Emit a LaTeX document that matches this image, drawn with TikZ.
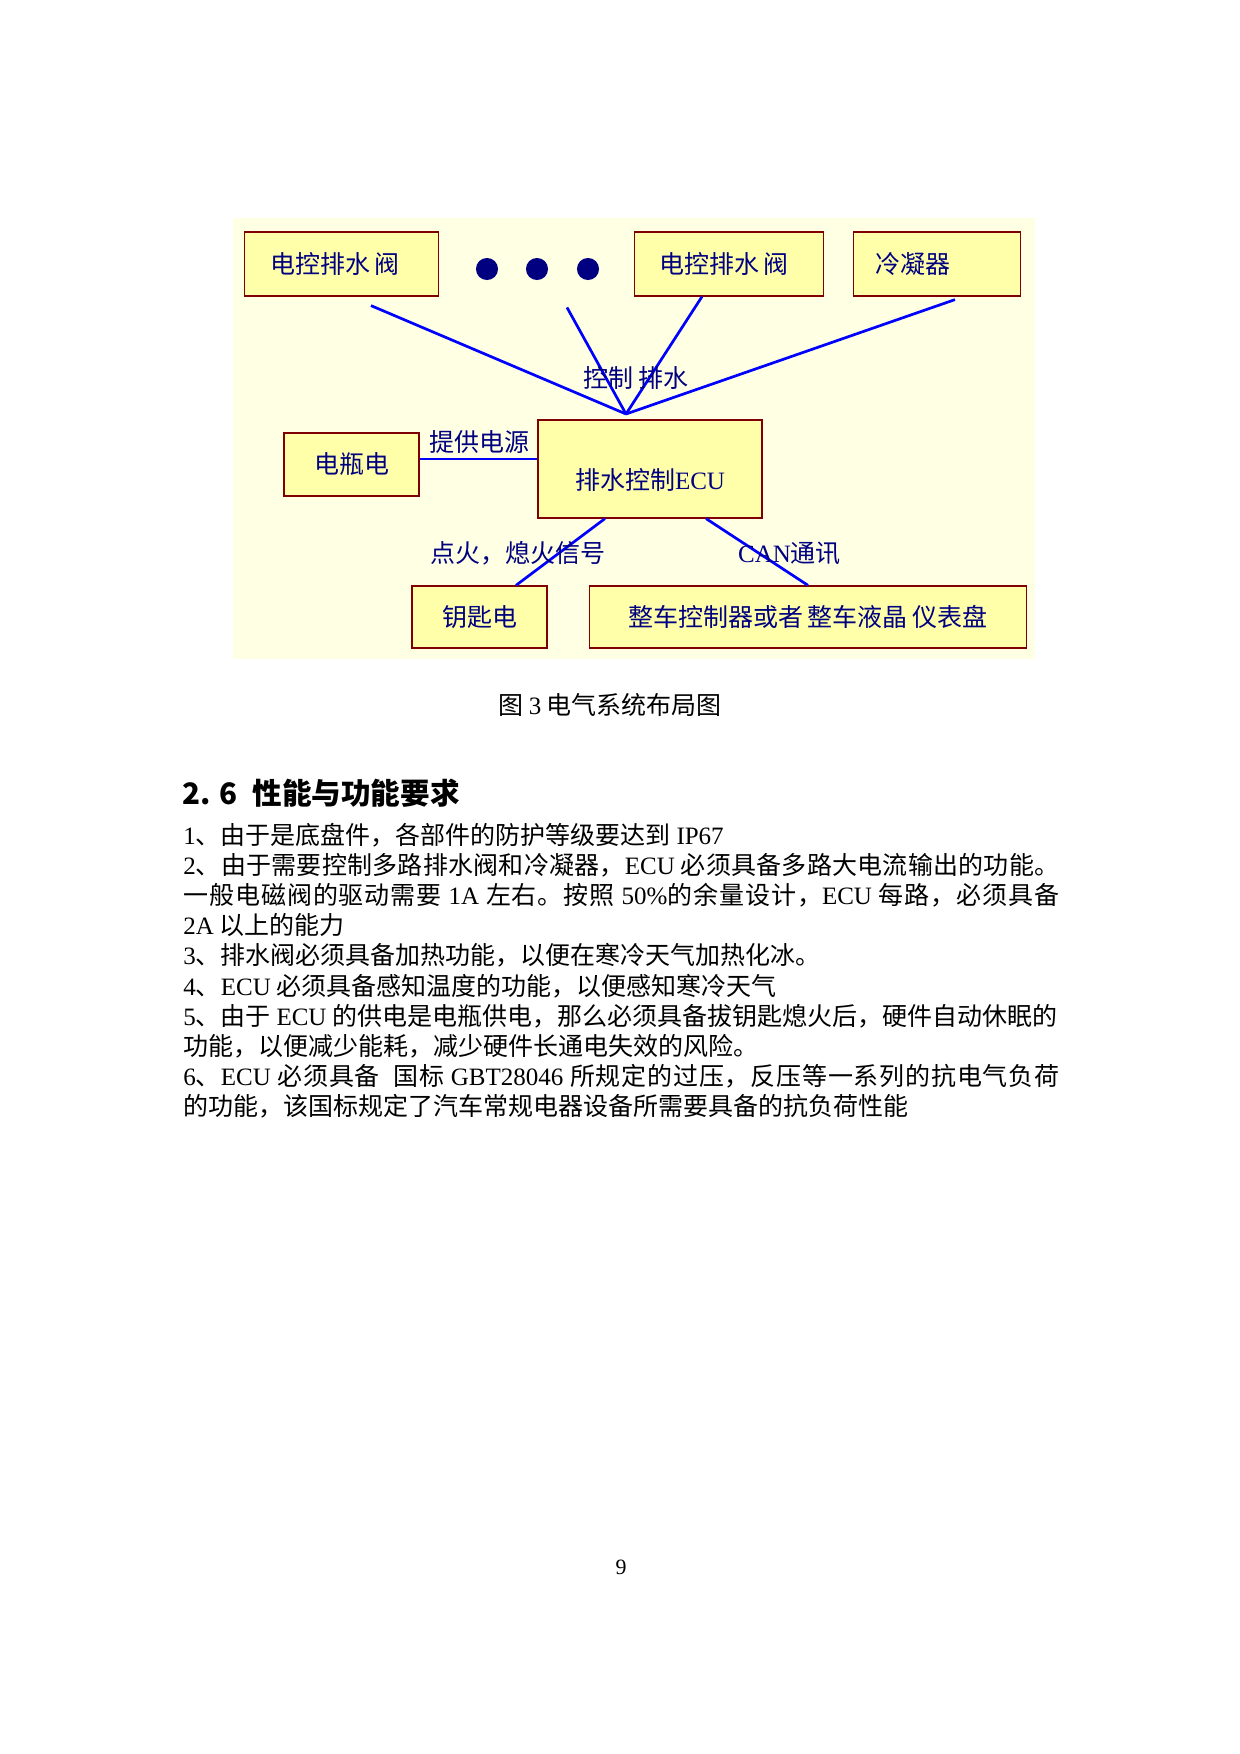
\documentclass[tikz,border=0pt]{standalone}
\usepackage{fontspec}
\setmainfont{Liberation Serif}
\newfontfamily\zh{Noto Sans CJK SC}
\usepackage{tikz}
\usetikzlibrary{positioning}
\definecolor{paper}{RGB}{255,255,228}
\definecolor{boxfill}{RGB}{255,255,170}
\definecolor{boxline}{RGB}{128,0,0}
\definecolor{navytext}{RGB}{0,0,128}
\definecolor{wireblue}{RGB}{0,0,255}
% stretch between Chinese characters for justified lines
\newXeTeXintercharclass\hanclass
\newcount\hanchar
\hanchar="4E00
\loop
	\XeTeXcharclass\hanchar=\hanclass
	\advance\hanchar by 1
\ifnum\hanchar<"A000 \repeat
\XeTeXcharclass"3001=\hanclass
\XeTeXcharclass"3002=\hanclass
\XeTeXcharclass"FF0C=\hanclass
\XeTeXinterchartoks\hanclass\hanclass={\hskip 0pt plus 1pt\relax}
\XeTeXinterchartoks 0 \hanclass={\hskip 0pt plus 1pt\relax}
\XeTeXinterchartoks\hanclass 0 ={\hskip 0pt plus 1pt\relax}
\tikzset{
    box/.style={
        draw=boxline, line width=0.6pt, fill=boxfill, text=navytext,
        font=\zh\fontsize{12}{14}\selectfont, inner ysep=0pt
    },
    topbox/.style={
        box, align=left, minimum height=30.7pt
    },
    dot/.style={circle, fill=navytext, inner sep=0pt, minimum size=10.6pt},
    wire/.style={draw=wireblue, line width=1.3pt},
    lbl/.style={text=navytext, font=\zh\fontsize{12}{14}\selectfont, inner sep=0pt},
    bodytext/.style={
        anchor=west, inner sep=0pt, font=\zh\fontsize{12}{14}\selectfont,
        text height=9pt, text depth=1.5pt
    }
}
\newcommand{\en}[1]{{\rmfamily #1}}
\newcommand{\bodyline}[3]{
	\node[bodytext] (#1) at (183,#2) {#3};
}
\newcommand{\fullline}[3]{
	\node[bodytext] (#1) at (183,#2) {\XeTeXinterchartokenstate=1 \makebox[420.5pt][s]{#3}};
}

\begin{document}
\begin{tikzpicture}[x=0.48pt, y=-0.48pt]
		\fill[white] (0,0) rectangle (1240,1754);
		\useasboundingbox (0,0) rectangle (1240,1754);

		% Diagram background
		\fill[paper] (233,218) rectangle (1035,659);

		% Top row
		\node[topbox, text width=68pt, inner xsep=12.5pt] (valveA) at (341.5,264) {电控排水\,阀};
		\foreach \i/\x in {1/487,2/537,3/588}
			\node[dot] (dot\i) at (\x,269) {};
		\node[topbox, text width=67pt, inner xsep=12pt] (valveB) at (729,264) {电控排水\,阀};
		\node[topbox, text width=59pt, inner xsep=10.5pt] (cond) at (937,264) {冷凝器};

		% Middle row
		\node[box, minimum width=64.8pt, minimum height=30.2pt] (bat) at (351.5,464.5) {电瓶电};
		\node[box, minimum width=107.5pt, minimum height=47pt, text height=21.7pt, text depth=2pt] (ecu) at (650,469) {排水控制\en{ECU}};

		% Bottom row
		\node[box, minimum width=64.8pt, minimum height=29.8pt] (key) at (479.5,617) {钥匙电};
		\node[box, minimum width=209.5pt, minimum height=29.8pt] (car) at (808,617) {整车控制器或者\,整车液晶\,仪表盘};

		% Control lines
		\coordinate (hub) at (626,414);
		\coordinate (valveA foot) at ([shift={(29.5,9)}]valveA.south);
		\coordinate (dots foot) at ([shift={(30,27)}]dot2.south);
		\coordinate (valveB foot) at ([shift={(-27,0)}]valveB.south);
		\coordinate (cond foot) at ([shift={(18,3)}]cond.south);
		\draw[wire] (valveA foot) -- (hub);
		\draw[wire] (dots foot) -- (hub);
		\draw[wire] (valveB foot) -- (hub);
		\draw[wire] (cond foot) -- (hub);
		\node[lbl] (ctrl) at (636,378) {控制\ 排水};

		% Power and signals
		\draw[wire] ([yshift=2.6pt]bat.east) -- ([yshift=2.6pt]bat.east -| ecu.west);
		\node[lbl] (pwr) at (479.5,442) {提供电源};
		\draw[wire] ([shift={(-45,0)}]ecu.south) -- ([shift={(36.5,0)}]key.north);
		\node[lbl] (ign) at (518,553) {点火，熄火信号};
		\draw[wire] ([shift={(56,0)}]ecu.south) -- (car.north);
		\node[lbl] (can) at (789.5,553) {\en{CAN}通讯};

		% Caption and text
		\node[inner sep=0pt, font=\zh\fontsize{12}{14}\selectfont] (caption) at (610,705) {图\ \en{3}\ 电气系统布局图};
		\node[anchor=west, inner sep=0pt, font=\zh\bfseries\fontsize{14.2}{17}\selectfont] (head) at (182,793) {2.\hspace{0.3em}6\hspace{0.5em}性能与功能要求};

		\bodyline{l1}{837}{\en{1}、由于是底盘件，各部件的防护等级要达到 \en{IP67}}
		\fullline{l2}{867}{\en{2}、由于需要控制多路排水阀和冷凝器，\en{ECU} 必须具备多路大电流输出的功能。}
		\fullline{l3}{897}{一般电磁阀的驱动需要 \en{1A} 左右。按照 \en{50\%}的余量设计，\en{ECU} 每路，必须具备}
		\bodyline{l4}{927}{\en{2A} 以上的能力}
		\bodyline{l5}{957}{\en{3}、排水阀必须具备加热功能，以便在寒冷天气加热化冰。}
		\bodyline{l6}{988}{\en{4}、\en{ECU} 必须具备感知温度的功能，以便感知寒冷天气}
		\bodyline{l7}{1018}{\en{5}、由于 \en{ECU} 的供电是电瓶供电，那么必须具备拔钥匙熄火后，硬件自动休眠的}
		\bodyline{l8}{1048}{功能，以便减少能耗，减少硬件长通电失效的风险。}
		\fullline{l9}{1078}{\en{6}、\en{ECU} 必须具备\ \ 国标 \en{GBT28046} 所规定的过压，反压等一系列的抗电气负荷}
		\bodyline{l10}{1108}{的功能，该国标规定了汽车常规电器设备所需要具备的抗负荷性能}

		% Page number
		\node[inner sep=0pt, font=\fontsize{10.5}{12}\selectfont] (pageno) at (621,1567) {9};
	\end{tikzpicture}
\end{document}
